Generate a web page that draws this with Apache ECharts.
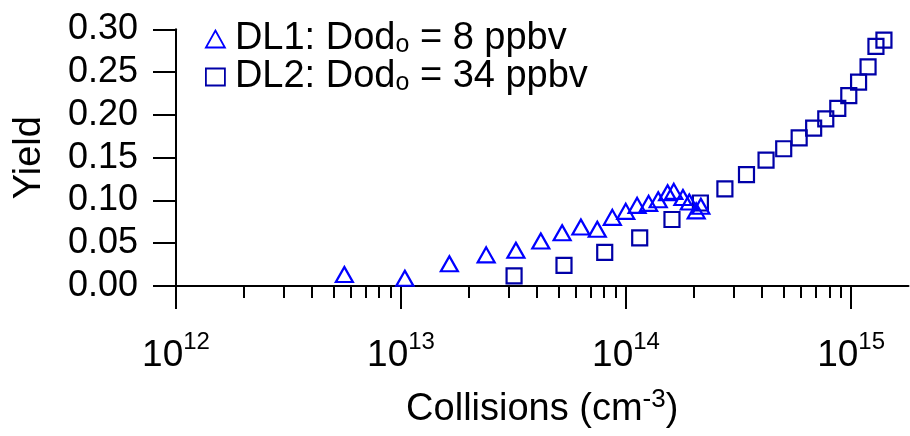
<!DOCTYPE html>
<html>
<head>
<meta charset="utf-8">
<script src="https://cdn.jsdelivr.net/npm/echarts@6/dist/echarts.min.js"></script>
<style>
html,body{margin:0;padding:0;background:#fff;}
#chart{width:910px;height:436px;}
</style>
</head>
<body>
<div id="chart"></div>
<script>
// DL1: Dod_o = 8 ppbv (triangles)
var dl1X = [5.6e12, 1.04e13, 1.64e13, 2.39e13, 3.24e13, 4.18e13, 5.2e13, 6.3e13, 7.45e13, 8.69e13, 9.97e13, 1.12e14, 1.26e14, 1.39e14, 1.53e14, 1.63e14, 1.79e14, 1.91e14, 2.05e14, 2.15e14];
var dl1Y = [0.0134, 0.009, 0.026, 0.0364, 0.0418, 0.0526, 0.0623, 0.0689, 0.0663, 0.0802, 0.0872, 0.0942, 0.0966, 0.1008, 0.1089, 0.1106, 0.1034, 0.0981, 0.0878, 0.0932];
// DL2: Dod_o = 34 ppbv (squares)
var dl2X = [3.18e13, 5.3e13, 8.04e13, 1.15e14, 1.60e14, 2.14e14, 2.75e14, 3.43e14, 4.19e14, 5.02e14, 5.88e14, 6.82e14, 7.72e14, 8.73e14, 9.77e14, 1.08e15, 1.19e15, 1.29e15, 1.40e15];
var dl2Y = [0.0119, 0.0242, 0.0394, 0.0563, 0.0777, 0.097, 0.1136, 0.1302, 0.1472, 0.1604, 0.1731, 0.1846, 0.1954, 0.2075, 0.2225, 0.2383, 0.2562, 0.2801, 0.2873];
// axis ticks
var xMajorTicks = [1e12, 1e13, 1e14, 1e15];
var xMinorTicks = [];
[1e12, 1e13, 1e14].forEach(function (d) { for (var k = 2; k <= 9; k++) xMinorTicks.push(k * d); });

var FONT = '"Liberation Sans", Arial, Helvetica, sans-serif';
function zip(xs, ys) { return xs.map(function (x, i) { return [x, ys[i]]; }); }

var chart = echarts.init(document.getElementById('chart'), null, {renderer: 'canvas'});
var option = {
  animation: false,
  backgroundColor: '#ffffff',
  textStyle: {fontFamily: FONT, color: '#000'},
  grid: {left: 176, top: 29.3, right: 1.5, bottom: 150, containLabel: false},
  legend: {
    orient: 'vertical', left: 205, top: 20, padding: 0, itemGap: 0,
    itemWidth: 19, itemHeight: 17,
    selectedMode: false,
    data: [
      {name: 'DL1', icon: 'triangle', itemStyle: {color: 'rgba(0,0,0,0)', borderColor: '#0000FF', borderWidth: 1.8}},
      {name: 'DL2', icon: 'rect', itemStyle: {color: 'rgba(0,0,0,0)', borderColor: '#0000A8', borderWidth: 1.8}}
    ],
    formatter: function (name) {
      return name === 'DL1'
        ? '{a|DL1: Dod}{s|o}{b| = 8 ppbv}'
        : '{a|DL2: Dod}{s|o}{b| = 34 ppbv}';
    },
    textStyle: {
      fontFamily: FONT, color: '#000', fontSize: 38,
      rich: {
        a: {fontFamily: FONT, fontSize: 38, lineHeight: 37, color: '#000', padding: [0, 0, 0, 5]},
        b: {fontFamily: FONT, fontSize: 38, lineHeight: 37, color: '#000'},
        s: {fontFamily: FONT, fontSize: 25, lineHeight: 13, color: '#000', verticalAlign: 'bottom'}
      }
    }
  },
  xAxis: [{
    type: 'log', logBase: 10, min: 1e12, max: 1.8e15, position: 'bottom',
    axisLine: {show: true, onZero: false, lineStyle: {color: '#000', width: 2}},
    axisTick: {show: true, inside: false, length: 23, customValues: xMajorTicks, lineStyle: {color: '#000', width: 2}},
    axisLabel: {
      show: true, margin: 44, customValues: xMajorTicks,
      formatter: function (v) { return '{b|10}{s|' + Math.round(Math.log10(v)) + '}'; },
      rich: {
        b: {fontFamily: FONT, fontSize: 37, lineHeight: 36, color: '#000', padding: [16, 0, 0, 0]},
        s: {fontFamily: FONT, fontSize: 24, lineHeight: 24, color: '#000', verticalAlign: 'top'}
      }
    },
    splitLine: {show: false},
    minorTick: {show: false},
    name: '{t|Collisions (cm}{p|-3}{t|)}',
    nameLocation: 'middle', nameGap: 101,
    nameTextStyle: {
      rich: {
        t: {fontFamily: FONT, fontSize: 38, lineHeight: 38, color: '#000', padding: [8, 0, 0, 0]},
        p: {fontFamily: FONT, fontSize: 26, lineHeight: 26, color: '#000', verticalAlign: 'top'}
      }
    }
  }, {
    type: 'log', logBase: 10, min: 1e12, max: 1.8e15, position: 'bottom',
    axisLine: {show: false},
    axisTick: {show: true, inside: false, length: 12, customValues: xMinorTicks, lineStyle: {color: '#000', width: 2}},
    axisLabel: {show: false},
    splitLine: {show: false}
  }],
  yAxis: {
    type: 'value', min: 0, max: 0.3, interval: 0.05,
    axisLine: {show: true, onZero: false, lineStyle: {color: '#000', width: 2}},
    axisTick: {show: true, inside: false, length: 23, lineStyle: {color: '#000', width: 2}},
    axisLabel: {
      margin: 38, fontFamily: FONT, fontSize: 36, color: '#000', padding: [0, 0, 6, 0],
      formatter: function (v) { return v.toFixed(2); }
    },
    splitLine: {show: false},
    name: 'Yield', nameLocation: 'middle', nameGap: 127, nameRotate: 90,
    nameTextStyle: {fontFamily: FONT, fontSize: 38, color: '#000'}
  },
  series: [{
    name: 'DL1', type: 'scatter', xAxisIndex: 0, z: 3,
    symbol: 'triangle', symbolSize: [17, 15],
    itemStyle: {color: 'rgba(0,0,0,0)', borderColor: '#0000FF', borderWidth: 2.2, opacity: 1},
    data: zip(dl1X, dl1Y)
  }, {
    name: 'DL2', type: 'scatter', xAxisIndex: 0, z: 2,
    symbol: 'rect', symbolSize: 15,
    itemStyle: {color: 'rgba(0,0,0,0)', borderColor: '#0000A8', borderWidth: 2.2, opacity: 1},
    data: zip(dl2X, dl2Y)
  }]
};
chart.setOption(option);
</script>
</body>
</html>
